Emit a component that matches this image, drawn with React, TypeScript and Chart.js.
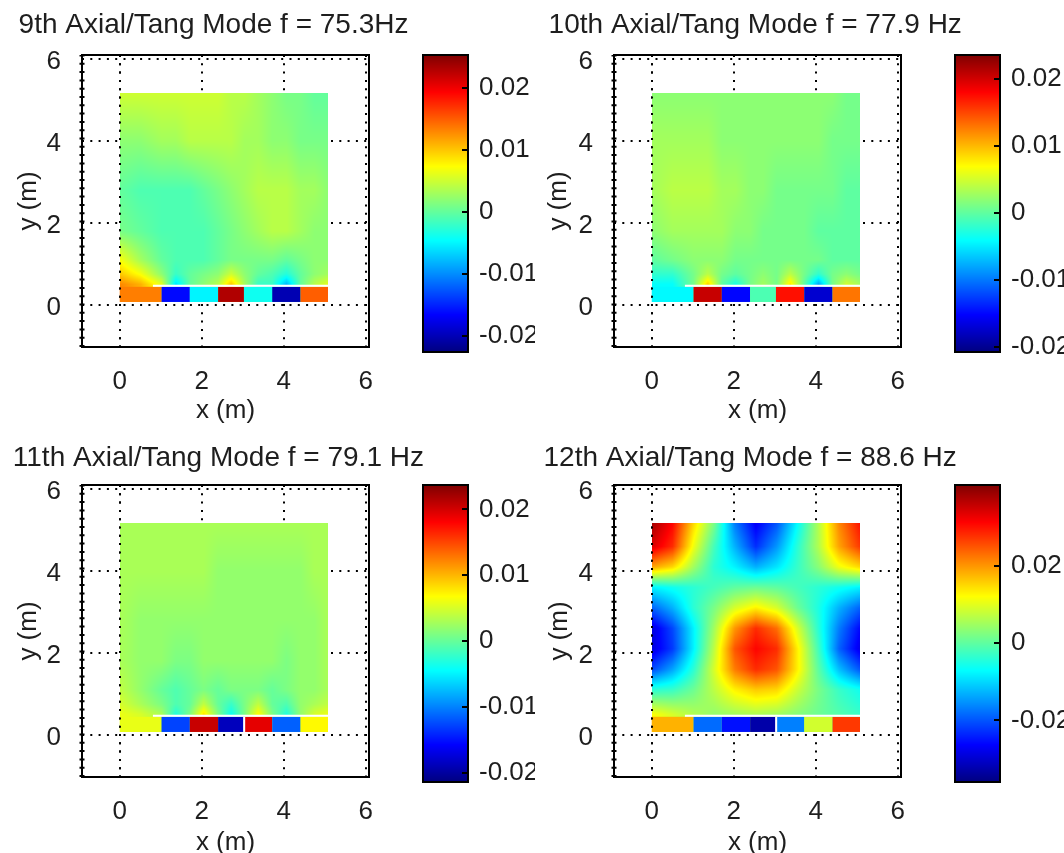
import React, { useEffect, useRef } from 'react';
import { Chart, registerables } from 'chart.js';

Chart.register(...registerables);

// ---------------- DATA ----------------
const modeTitles = [
  '9th Axial/Tang Mode f = 75.3Hz',
  '10th Axial/Tang Mode f = 77.9 Hz',
  '11th Axial/Tang Mode f = 79.1 Hz',
  '12th Axial/Tang Mode f = 88.6 Hz',
];
const xLabel = 'x (m)';
const yLabel = 'y (m)';
const xTicks = [0, 2, 4, 6];
const xTickLabels = ['0', '2', '4', '6'];
const yTicks = [0, 2, 4, 6];
const yTickLabels = ['0', '2', '4', '6'];
const xRange = [-0.92, 6.08];
const yRange = [-1.03, 6.1];

// colour limits of each mode
const climMin = [-0.0226, -0.0207, -0.0214, -0.0359];
const climMax = [0.0253, 0.0236, 0.0237, 0.0408];
const cbTickValues = [
  [-0.02, -0.01, 0, 0.01, 0.02],
  [-0.02, -0.01, 0, 0.01, 0.02],
  [-0.02, -0.01, 0, 0.01, 0.02],
  [-0.02, 0, 0.02],
];
const cbTickLabels = [
  ['-0.02', '-0.01', '0', '0.01', '0.02'],
  ['-0.02', '-0.01', '0', '0.01', '0.02'],
  ['-0.02', '-0.01', '0', '0.01', '0.02'],
  ['-0.02', '0', '0.02'],
];

// room extent (m)
const roomX = [0, 5.08];
const roomY = [0.07, 5.16];
// bottom strip (panel elements)
const stripEdges = [0, 1.02, 1.71, 2.4, 3.03, 3.72, 4.41, 5.08];
const stripTop = 0.44;
const gapTop = 0.49;
const gapStartX = 0.81;
const strip9 = [0.0134, -0.0163, -0.0051, 0.023, -0.004, -0.0202, 0.0149];
const strip10 = [-0.0043, 0.0205, -0.015, -0.0008, 0.0174, -0.0172, 0.013];
const strip11 = [0.0058, -0.0128, 0.0205, -0.0187, 0.0192, -0.0115, 0.007];
const strip12 = [0.0178, -0.0183, -0.0252, -0.0328, -0.0167, 0.0086, 0.027];

// field grids (rows from top to bottom)
const fieldXFine = [0, 0.51, 1.02, 1.37, 1.71, 2.05, 2.4, 2.72, 3.05, 3.38, 3.72, 4.07, 4.41, 4.75, 5.08];
const fieldYFine = [5.16, 4.0, 2.8, 1.8, 1.1, 0.75, 0.5];
const field9 = [
  [0.005, 0.005, 0.005, 0.005, 0.005, 0.005, 0.005, 0.004, 0.004, 0.003, 0.002, 0.001, 0.001, 0.0, 0.0],
  [0.002, 0.002, 0.003, 0.003, 0.004, 0.004, 0.004, 0.004, 0.003, 0.003, 0.002, 0.002, 0.001, 0.001, 0.001],
  [0.0, -0.001, -0.001, -0.001, -0.001, 0.0, 0.001, 0.002, 0.003, 0.004, 0.004, 0.004, 0.003, 0.003, 0.002],
  [0.001, 0.0, -0.001, -0.001, -0.001, -0.001, 0.0, 0.001, 0.002, 0.003, 0.004, 0.004, 0.003, 0.002, 0.002],
  [0.007, 0.003, 0.0, -0.001, -0.001, -0.001, 0.0, 0.001, 0.001, 0.001, 0.001, 0.0, 0.001, 0.002, 0.002],
  [0.01, 0.007, 0.002, -0.002, 0.0, 0.001, 0.002, 0.005, 0.002, 0.0, -0.001, -0.003, 0.0, 0.002, 0.003],
  [0.013, 0.011, 0.006, -0.006, 0.0, 0.002, 0.004, 0.01, 0.003, -0.002, -0.002, -0.008, 0.0, 0.004, 0.006],
];
const field10 = [
  [0.002, 0.002, 0.002, 0.002, 0.002, 0.002, 0.002, 0.002, 0.002, 0.002, 0.002, 0.002, 0.002, 0.001, 0.001],
  [0.003, 0.003, 0.003, 0.003, 0.002, 0.002, 0.002, 0.002, 0.002, 0.002, 0.002, 0.002, 0.001, 0.001, 0.001],
  [0.003, 0.004, 0.004, 0.004, 0.003, 0.003, 0.002, 0.002, 0.001, 0.001, 0.001, 0.001, 0.001, 0.0, 0.0],
  [0.002, 0.003, 0.003, 0.003, 0.003, 0.002, 0.002, 0.001, 0.001, 0.001, 0.001, 0.0, 0.0, 0.0, 0.0],
  [0.0, 0.001, 0.002, 0.002, 0.002, 0.001, 0.001, 0.001, 0.001, 0.001, 0.001, 0.001, 0.0, 0.0, 0.0],
  [-0.002, -0.002, 0.001, 0.004, 0.001, 0.0, 0.001, 0.002, 0.001, 0.004, 0.001, -0.002, 0.001, 0.002, 0.001],
  [-0.004, -0.004, 0.001, 0.009, 0.0, -0.003, 0.001, 0.003, 0.001, 0.008, 0.0, -0.008, 0.001, 0.005, 0.003],
];
const field11 = [
  [0.003, 0.003, 0.003, 0.003, 0.003, 0.003, 0.003, 0.003, 0.003, 0.003, 0.003, 0.003, 0.003, 0.003, 0.003],
  [0.003, 0.003, 0.003, 0.003, 0.003, 0.003, 0.002, 0.002, 0.002, 0.002, 0.002, 0.002, 0.002, 0.003, 0.003],
  [0.003, 0.002, 0.002, 0.002, 0.002, 0.002, 0.002, 0.002, 0.002, 0.002, 0.002, 0.002, 0.002, 0.002, 0.003],
  [0.003, 0.002, 0.002, 0.001, 0.001, 0.002, 0.002, 0.002, 0.002, 0.002, 0.002, 0.001, 0.002, 0.002, 0.003],
  [0.004, 0.002, 0.0, -0.001, 0.0, 0.001, 0.0, 0.001, 0.001, 0.001, 0.0, 0.001, 0.002, 0.002, 0.003],
  [0.005, 0.003, 0.001, -0.001, 0.0, 0.004, 0.0, -0.002, 0.001, 0.004, 0.0, -0.001, 0.002, 0.003, 0.004],
  [0.006, 0.005, 0.003, -0.003, 0.001, 0.008, 0.001, -0.004, 0.001, 0.007, 0.001, -0.003, 0.002, 0.005, 0.006],
];
const fieldXCoarse = [0, 0.51, 1.02, 1.52, 2.03, 2.54, 3.05, 3.56, 4.06, 4.57, 5.08];
const fieldYCoarse = [5.16, 4.6, 4.1, 3.6, 3.1, 2.6, 2.1, 1.6, 1.1, 0.5];
const field12 = [
  [0.038, 0.031, 0.015, 0.002, -0.017, -0.027, -0.02, -0.007, 0.006, 0.021, 0.03],
  [0.034, 0.028, 0.011, -0.002, -0.013, -0.023, -0.015, -0.004, 0.006, 0.019, 0.027],
  [0.019, 0.015, 0.005, -0.004, -0.008, -0.013, -0.009, -0.003, 0.003, 0.011, 0.015],
  [-0.008, -0.006, -0.004, -0.002, 0.0, 0.001, 0.0, -0.002, -0.004, -0.006, -0.008],
  [-0.019, -0.013, -0.004, 0.002, 0.009, 0.013, 0.009, 0.001, -0.005, -0.013, -0.019],
  [-0.029, -0.021, -0.008, 0.005, 0.02, 0.028, 0.023, 0.009, -0.004, -0.017, -0.026],
  [-0.029, -0.022, -0.008, 0.007, 0.025, 0.031, 0.028, 0.013, -0.002, -0.019, -0.028],
  [-0.021, -0.014, -0.004, 0.009, 0.022, 0.028, 0.025, 0.013, 0.0, -0.012, -0.02],
  [-0.004, -0.003, 0.001, 0.007, 0.013, 0.016, 0.015, 0.008, 0.002, -0.003, -0.006],
  [0.012, 0.009, 0.006, 0.004, 0.005, 0.006, 0.005, 0.003, 0.001, -0.001, -0.003],
];

// ---------------- STYLE / LAYOUT ----------------
const FONT = 'Arial, "Liberation Sans", Helvetica, sans-serif';
const TXT = '#1e1e1e';
const DOT = [2, 6.3];

type Layout = {
  x: number; y: number; w: number; h: number;
  padL: number; areaL: number; areaR: number; areaT: number; areaB: number;
  titleC: number; xTitlePb: number; yTitlePt: number;
  cbX: number; cbW: number;
};
const layouts: Layout[] = [
  { x: 0, y: 0, w: 530, h: 428, padL: 18.6, areaL: 82, areaR: 369, areaT: 55, areaB: 347, titleC: 25.3, xTitlePb: 7, yTitlePt: 0, cbX: 418, cbW: 117 },
  { x: 530, y: 0, w: 534, h: 428, padL: 18.6, areaL: 84, areaR: 371, areaT: 55, areaB: 347, titleC: 25.3, xTitlePb: 7, yTitlePt: 0, cbX: 950, cbW: 114 },
  { x: 0, y: 430, w: 530, h: 423, padL: 12.8, areaL: 82, areaR: 369, areaT: 55, areaB: 347, titleC: 28.7, xTitlePb: 0, yTitlePt: 5.6, cbX: 418, cbW: 117 },
  { x: 530, y: 430, w: 534, h: 423, padL: 13.5, areaL: 84, areaR: 371, areaT: 55, areaB: 347, titleC: 28.7, xTitlePb: 0, yTitlePt: 6, cbX: 950, cbW: 114 },
];
const CB_L = 5, CB_R = 50, CB_T = 55, CB_B = 352;

type Mode = {
  title: string; cmin: number; cmax: number;
  fx: number[]; fy: number[]; field: number[][];
  strip: number[]; vGap: boolean;
  cbTicks: number[]; cbLabels: string[];
};
const modes: Mode[] = [
  { title: modeTitles[0], cmin: climMin[0], cmax: climMax[0], fx: fieldXFine, fy: fieldYFine, field: field9, strip: strip9, vGap: false, cbTicks: cbTickValues[0], cbLabels: cbTickLabels[0] },
  { title: modeTitles[1], cmin: climMin[1], cmax: climMax[1], fx: fieldXFine, fy: fieldYFine, field: field10, strip: strip10, vGap: false, cbTicks: cbTickValues[1], cbLabels: cbTickLabels[1] },
  { title: modeTitles[2], cmin: climMin[2], cmax: climMax[2], fx: fieldXFine, fy: fieldYFine, field: field11, strip: strip11, vGap: true, cbTicks: cbTickValues[2], cbLabels: cbTickLabels[2] },
  { title: modeTitles[3], cmin: climMin[3], cmax: climMax[3], fx: fieldXCoarse, fy: fieldYCoarse, field: field12, strip: strip12, vGap: true, cbTicks: cbTickValues[3], cbLabels: cbTickLabels[3] },
];

// ---------------- HELPERS ----------------
const c01 = (v: number) => (v < 0 ? 0 : v > 1 ? 1 : v);
function jet(t: number): [number, number, number] {
  t = c01(t);
  return [
    Math.round(255 * c01(1.5 - Math.abs(4 * t - 3))),
    Math.round(255 * c01(1.5 - Math.abs(4 * t - 2))),
    Math.round(255 * c01(1.5 - Math.abs(4 * t - 1))),
  ];
}
function locate(arr: number[], v: number): [number, number] {
  const n = arr.length;
  for (let i = 0; i < n - 1; i++) {
    const a = arr[i], b = arr[i + 1];
    if (v >= Math.min(a, b) && v <= Math.max(a, b)) return [i, (v - a) / (b - a)];
  }
  const asc = arr[n - 1] > arr[0];
  if (asc ? v < arr[0] : v > arr[0]) return [0, 0];
  return [n - 2, 1];
}
function sample(m: Mode, x: number, y: number) {
  const [i, fx] = locate(m.fx, x);
  const [j, fy] = locate(m.fy, y);
  const g = m.field;
  const a = g[j][i] * (1 - fx) + g[j][i + 1] * fx;
  const b = g[j + 1][i] * (1 - fx) + g[j + 1][i + 1] * fx;
  return a * (1 - fy) + b * fy;
}
function dotted(ctx: CanvasRenderingContext2D, x0: number, y0: number, x1: number, y1: number, lw = 2) {
  ctx.save();
  ctx.setLineDash(DOT);
  ctx.lineWidth = lw;
  ctx.strokeStyle = '#000';
  ctx.beginPath();
  ctx.moveTo(x0, y0);
  ctx.lineTo(x1, y1);
  ctx.stroke();
  ctx.restore();
}
const rgb = (c: number[]) => `rgb(${c[0]},${c[1]},${c[2]})`;

function heatPlugin(m: Mode) {
  return {
    id: 'heat',
    beforeDatasetsDraw(chart: any) {
      const ctx: CanvasRenderingContext2D = chart.ctx;
      const xs = chart.scales.x, ys = chart.scales.y;
      const a = chart.chartArea;
      // dotted grid
      xTicks.forEach((v) => { const p = Math.round(xs.getPixelForValue(v)); dotted(ctx, p, a.top, p, a.bottom); });
      yTicks.forEach((v) => { const p = Math.round(ys.getPixelForValue(v)); dotted(ctx, a.left, p, a.right, p); });
      // smooth field
      const px0 = Math.round(xs.getPixelForValue(roomX[0]));
      const px1 = Math.round(xs.getPixelForValue(roomX[1]));
      const py0 = Math.round(ys.getPixelForValue(roomY[1]));
      const py1 = Math.round(ys.getPixelForValue(roomY[0]));
      const w = px1 - px0, h = py1 - py0;
      const off = document.createElement('canvas');
      off.width = w; off.height = h;
      const octx = off.getContext('2d')!;
      const img = octx.createImageData(w, h);
      for (let j = 0; j < h; j++) {
        const yv = ys.getValueForPixel(py0 + j + 0.5);
        for (let i = 0; i < w; i++) {
          const xv = xs.getValueForPixel(px0 + i + 0.5);
          const v = sample(m, xv, yv);
          const c = jet((v - m.cmin) / (m.cmax - m.cmin));
          const k = (j * w + i) * 4;
          img.data[k] = c[0]; img.data[k + 1] = c[1]; img.data[k + 2] = c[2]; img.data[k + 3] = 255;
        }
      }
      octx.putImageData(img, 0, 0);
      ctx.drawImage(off, px0, py0);
      // strip cells
      const sT = ys.getPixelForValue(stripTop), sB = ys.getPixelForValue(roomY[0]);
      for (let k = 0; k < m.strip.length; k++) {
        const l = xs.getPixelForValue(stripEdges[k]), r = xs.getPixelForValue(stripEdges[k + 1]);
        ctx.fillStyle = rgb(jet((m.strip[k] - m.cmin) / (m.cmax - m.cmin)));
        ctx.fillRect(l, sT, r - l, sB - sT);
      }
      ctx.fillStyle = '#fff';
      const gl = xs.getPixelForValue(gapStartX), gr = xs.getPixelForValue(roomX[1]);
      const gt = ys.getPixelForValue(gapTop);
      ctx.fillRect(gl, gt, gr - gl, sT - gt);
      if (m.vGap) {
        const vl = xs.getPixelForValue(3.01), vr = xs.getPixelForValue(3.06);
        ctx.fillRect(vl, sT, vr - vl, sB - sT);
      }
      // x = 0 dotted line on top
      const p0 = Math.round(xs.getPixelForValue(0));
      dotted(ctx, p0, a.top, p0, a.bottom);
      // box
      ctx.save();
      ctx.strokeStyle = '#000';
      ctx.lineWidth = 2;
      ctx.strokeRect(a.left, a.top, a.right - a.left, a.bottom - a.top);
      ctx.restore();
      dotted(ctx, a.left, a.bottom, a.left, a.top, 5);
    },
  };
}

function cbPlugin(m: Mode) {
  return {
    id: 'cbar',
    beforeDatasetsDraw(chart: any) {
      const ctx: CanvasRenderingContext2D = chart.ctx;
      const ys = chart.scales.y;
      const a = chart.chartArea;
      for (let py = Math.floor(a.top); py < Math.ceil(a.bottom); py++) {
        const v = ys.getValueForPixel(py + 0.5);
        ctx.fillStyle = rgb(jet((v - m.cmin) / (m.cmax - m.cmin)));
        ctx.fillRect(a.left, py, a.right - a.left, 1);
      }
      ctx.save();
      ctx.strokeStyle = '#000';
      ctx.lineWidth = 2;
      ctx.strokeRect(a.left, a.top, a.right - a.left, a.bottom - a.top);
      ctx.beginPath();
      m.cbTicks.forEach((v) => {
        const p = Math.round(ys.getPixelForValue(v));
        ctx.moveTo(a.right - 6, p);
        ctx.lineTo(a.right, p);
      });
      ctx.stroke();
      ctx.restore();
    },
  };
}

function Panel({ m, L }: { m: Mode; L: Layout }) {
  const mainRef = useRef<HTMLCanvasElement>(null);
  const cbRef = useRef<HTMLCanvasElement>(null);
  useEffect(() => {
    const lh = 28 * 1.2;
    const tTop = L.titleC - lh / 2;
    const tBottom = L.areaT - tTop - lh;
    const main = new Chart(mainRef.current!, {
      type: 'scatter',
      data: { datasets: [] },
      plugins: [heatPlugin(m)],
      options: {
        responsive: false,
        animation: false,
        events: [],
        layout: { padding: { left: L.padL, right: 0, top: 0, bottom: 0 } },
        plugins: {
          legend: { display: false },
          tooltip: { enabled: false },
          title: {
            display: true,
            text: m.title,
            align: 'start',
            color: TXT,
            font: { family: FONT, size: 28, weight: 'normal' },
            padding: { top: tTop, bottom: tBottom },
          },
        },
        scales: {
          x: {
            type: 'linear',
            position: 'bottom',
            min: xRange[0],
            max: xRange[1],
            grid: { display: false },
            border: { display: false },
            afterBuildTicks: (s: any) => { s.ticks = xTicks.map((v) => ({ value: v })); },
            afterFit: (s: any) => { s.height = L.h - L.areaB; },
            ticks: {
              autoSkip: false,
              maxRotation: 0,
              padding: 11.5,
              color: TXT,
              font: { family: FONT, size: 26 },
              callback: (v: any) => xTickLabels[xTicks.indexOf(Number(v))] ?? '',
            },
            title: {
              display: true,
              text: xLabel,
              color: TXT,
              font: { family: FONT, size: 26, lineHeight: 0.77 },
              padding: { top: 0, bottom: L.xTitlePb },
            },
          },
          y: {
            type: 'linear',
            position: 'left',
            min: yRange[0],
            max: yRange[1],
            grid: { display: false },
            border: { display: false },
            afterBuildTicks: (s: any) => { s.ticks = yTicks.map((v) => ({ value: v })); },
            afterFit: (s: any) => { s.width = L.areaL - L.padL; },
            ticks: {
              autoSkip: false,
              padding: 13,
              labelOffset: 3,
              color: TXT,
              font: { family: FONT, size: 26 },
              callback: (v: any) => yTickLabels[yTicks.indexOf(Number(v))] ?? '',
            },
            title: {
              display: true,
              text: yLabel,
              color: TXT,
              font: { family: FONT, size: 26, lineHeight: 0.8 },
              padding: { top: L.yTitlePt, bottom: 0 },
            },
          },
          yR: {
            type: 'linear',
            position: 'right',
            display: true,
            grid: { display: false },
            border: { display: false },
            ticks: { display: false },
            afterFit: (s: any) => { s.width = L.w - L.areaR; },
          },
        },
      } as any,
    });
    const cb = new Chart(cbRef.current!, {
      type: 'scatter',
      data: { datasets: [] },
      plugins: [cbPlugin(m)],
      options: {
        responsive: false,
        animation: false,
        events: [],
        layout: { padding: { left: CB_L, right: 0, top: CB_T, bottom: L.h - CB_B } },
        plugins: { legend: { display: false }, tooltip: { enabled: false }, title: { display: false } },
        scales: {
          x: { type: 'linear', display: false, min: 0, max: 1 },
          y: {
            type: 'linear',
            position: 'right',
            min: m.cmin,
            max: m.cmax,
            grid: { display: false },
            border: { display: false },
            afterBuildTicks: (s: any) => { s.ticks = m.cbTicks.map((v) => ({ value: v })); },
            afterFit: (s: any) => { s.width = L.cbW - CB_R; },
            ticks: {
              autoSkip: false,
              padding: 3,
              color: TXT,
              font: { family: FONT, size: 26 },
              callback: (v: any) => m.cbLabels[m.cbTicks.indexOf(Number(v))] ?? '',
            },
          },
        },
      } as any,
    });
    return () => { main.destroy(); cb.destroy(); };
  }, []);
  return (
    <>
      <canvas ref={mainRef} width={L.w} height={L.h} style={{ position: 'absolute', left: L.x, top: L.y, width: L.w, height: L.h }} />
      <canvas ref={cbRef} width={L.cbW} height={L.h} style={{ position: 'absolute', left: L.cbX, top: L.y, width: L.cbW, height: L.h }} />
    </>
  );
}

export default function App() {
  return (
    <div style={{ position: 'absolute', left: 0, top: 0, width: 1064, height: 853, overflow: 'hidden', background: '#fff' }}>
      {modes.map((m, i) => (
        <Panel key={i} m={m} L={layouts[i]} />
      ))}
    </div>
  );
}
